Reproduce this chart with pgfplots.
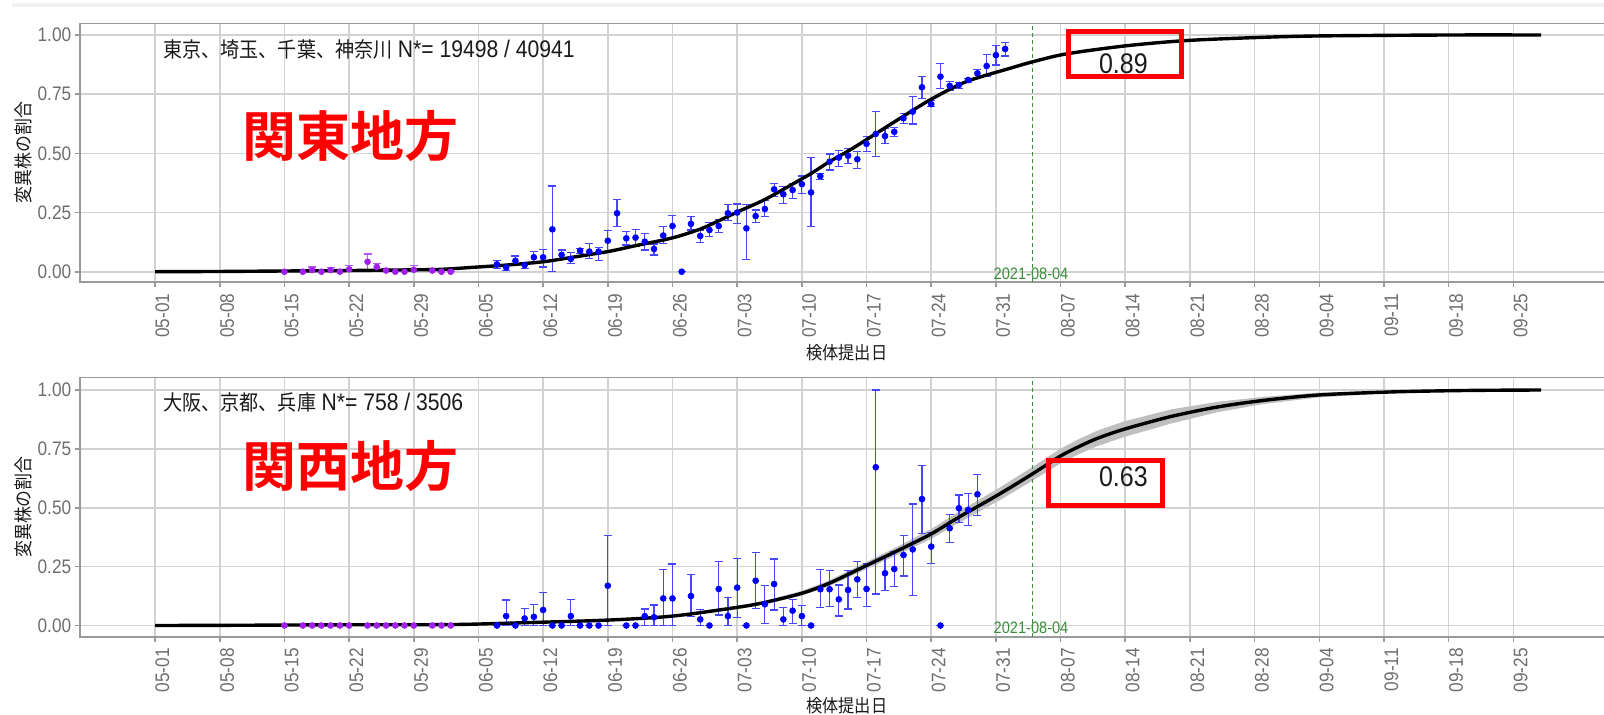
\documentclass[border=0pt]{standalone}
\usepackage{fontspec}
\setmainfont{Liberation Sans}
\newfontfamily\lsans{Liberation Sans}[FakeStretch=0.88]
\newfontfamily\cjk{Noto Sans CJK JP}[FakeStretch=0.9]
\newfontfamily\cjkb{Noto Sans CJK JP Bold}
\usepackage{pgfplots}
\pgfplotsset{compat=1.18}

\definecolor{tickgray}{HTML}{6E6E6E}
\definecolor{gridgray}{HTML}{D2D2D2}
\definecolor{framegray}{HTML}{9A9A9A}
\definecolor{vgreen}{HTML}{3C8C3C}
\definecolor{rpurple}{HTML}{A020F0}
\definecolor{barblue}{HTML}{4646FF}
\definecolor{txt}{HTML}{1A1A1A}

% day 0 = 05-01
\pgfplotstableread{
d v ep em
14 0 0 0
16 0 0 0
17 0.007 0.013 0.007
18 0 0 0
19 0.007 0.011 0.007
20 0 0 0
21 0.010 0.017 0.010
23 0.042 0.033 0.035
24 0.020 0.015 0.015
25 0.005 0.010 0.005
26 0 0 0
27 0 0 0
28 0.008 0.019 0.008
30 0.005 0.007 0.005
31 0 0 0
32 0 0 0
}\kantopurple

\pgfplotstableread{
d v ep em
37 0.031 0.016 0.016
38 0.018 0.012 0.013
39 0.046 0.020 0.018
40 0.028 0.012 0.013
41 0.061 0.026 0.025
42 0.061 0.033 0.041
43 0.179 0.183 0.179
44 0.071 0.021 0.021
45 0.054 0.026 0.021
46 0.089 0.009 0.011
47 0.085 0.035 0.029
48 0.085 0.018 0.036
49 0.131 0.042 0.046
50 0.247 0.058 0.057
51 0.141 0.028 0.028
52 0.144 0.035 0.035
53 0.127 0.035 0.035
54 0.096 0.021 0.025
55 0.153 0.039 0.033
56 0.193 0.046 0.052
57 0 0 0
58 0.202 0.030 0.026
59 0.151 0.025 0.029
60 0.176 0.031 0.028
61 0.193 0.028 0.028
62 0.247 0.038 0.029
63 0.250 0.036 0.046
64 0.183 0.100 0.131
65 0.235 0.026 0.028
66 0.265 0.035 0.033
67 0.348 0.025 0.031
68 0.327 0.032 0.038
69 0.345 0.028 0.035
70 0.370 0.034 0.039
71 0.335 0.146 0.145
72 0.404 0.012 0.014
73 0.465 0.032 0.035
74 0.482 0.029 0.038
75 0.490 0.031 0.032
76 0.475 0.032 0.038
77 0.540 0.030 0.033
78 0.582 0.096 0.096
79 0.573 0.033 0.031
80 0.591 0.019 0.021
81 0.648 0.021 0.021
82 0.676 0.064 0.052
83 0.779 0.045 0.047
84 0.708 0.014 0.011
85 0.824 0.056 0.049
86 0.785 0.018 0.017
87 0.789 0.010 0.014
88 0.810 0.007 0.011
89 0.838 0.017 0.018
90 0.869 0.048 0.045
91 0.915 0.042 0.042
92 0.941 0.026 0.030
}\kantoblue

\pgfplotstableread{
d v
0 0
7 0.001
14 0.003
21 0.005
28 0.008
31 0.010
35 0.020
38 0.028
42 0.042
45 0.060
49 0.085
52 0.110
56 0.143
59 0.180
61 0.215
63 0.252
66 0.305
69 0.370
71 0.415
73 0.465
75.2 0.514
78 0.583
81.4 0.667
84.2 0.733
87.8 0.803
92.5 0.859
95 0.887
98.6 0.920
105 0.954
111.4 0.976
119 0.989
126 0.996
140 1.0
150 1.0
}\kantofit

\pgfplotstableread{
d v ep em
14 0 0 0
16 0 0 0
17 0 0 0
18 0 0 0
19 0 0 0
20 0 0 0
21 0 0 0
23 0 0 0
24 0 0 0
25 0 0 0
26 0 0 0
27 0 0 0
28 0 0 0
30 0 0 0
31 0 0 0
32 0 0 0
}\kansaipurple

\pgfplotstableread{
d v ep em
37 0 0 0
38 0.040 0.068 0.040
39 0 0 0
40 0.030 0.043 0.030
41 0.037 0.053 0.037
42 0.066 0.074 0.066
43 0 0 0
44 0 0 0
45 0.040 0.070 0.040
46 0 0 0
47 0 0 0
48 0 0 0
49 0.169 0.212 0.169
51 0 0 0
52 0 0 0
53 0.040 0.030 0.040
54 0.035 0.052 0.035
55 0.115 0.124 0.115
56 0.115 0.146 0.115
58 0.125 0.090 0.087
59 0.026 0.043 0.026
60 0 0 0
61 0.155 0.116 0.110
62 0.040 0.080 0.040
63 0.161 0.124 0.126
64 0 0 0
65 0.190 0.119 0.117
66 0.090 0.080 0.081
67 0.176 0.106 0.110
68 0.026 0.051 0.026
69 0.063 0.047 0.053
70 0.040 0.044 0.040
71 0 0 0
72 0.154 0.085 0.077
73 0.154 0.079 0.074
74 0.111 0.061 0.071
75 0.151 0.082 0.081
76 0.196 0.075 0.076
77 0.155 0.106 0.075
78 0.672 0.328 0.538
79 0.222 0.072 0.072
80 0.240 0.073 0.075
81 0.299 0.082 0.089
82 0.323 0.193 0.197
83 0.537 0.144 0.146
84 0.335 0.059 0.071
85 0 0 0
86 0.413 0.059 0.060
87 0.498 0.056 0.060
88 0.491 0.070 0.065
89 0.557 0.085 0.091
}\kansaiblue

\pgfplotstableread{
d v
0 0
9 0.001
20 0.003
32 0.004
40 0.012
49 0.023
56 0.040
63 0.077
66 0.098
70 0.137
73 0.180
77 0.255
81 0.330
84 0.389
87 0.460
91.5 0.561
95 0.645
98 0.720
100 0.760
102 0.795
105 0.835
110 0.888
115 0.928
120 0.956
126 0.979
134 0.992
142 0.998
150 1.0
}\kansaifit

% confidence band: upper edge forward, lower edge back
\pgfplotstableread{
d v
56 0.044
63 0.083
66 0.105
70 0.147
73 0.192
77 0.270
81 0.348
84 0.410
87 0.484
91.5 0.588
95 0.674
98 0.751
100 0.792
102 0.828
105 0.868
110 0.918
115 0.950
120 0.971
126 0.989
134 0.997
142 1.000
150 1.001
150 0.999
142 0.996
134 0.987
126 0.969
120 0.941
115 0.906
110 0.858
105 0.802
102 0.762
100 0.728
98 0.689
95 0.616
91.5 0.534
87 0.436
84 0.368
81 0.312
77 0.240
73 0.168
70 0.127
66 0.091
63 0.071
56 0.036
}\kansaiband

\pgfplotsset{
  panel/.style={
    scale only axis, width=768pt,
    xmin=-8.12, xmax=158.11,
    xtick={0,7,...,147},
    xticklabels={05-01,05-08,05-15,05-22,05-29,06-05,06-12,06-19,06-26,07-03,07-10,07-17,07-24,07-31,08-07,08-14,08-21,08-28,09-04,09-11,09-18,09-25},
    ytick={0,0.25,0.5,0.75,1},
    yticklabels={0.00,0.25,0.50,0.75,1.00},
    grid=major,
    major grid style={gridgray, line width=0.8pt},
    axis line style={framegray, line width=0.8pt},
    tick align=outside, major tick length=2.6pt,
    tick style={framegray, line width=0.8pt},
    xtick pos=left, ytick pos=left,
    tick label style={font=\lsans\fontsize{9.8}{10}\selectfont, text=tickgray},
    xticklabel style={rotate=90, anchor=north east, inner sep=0pt},
    yticklabel style={anchor=east, inner sep=0pt},
    xticklabel shift=3pt, yticklabel shift=1.6pt,
    clip=false,
  },
  errs/.style 2 args={only marks, mark=*, mark size=1.45pt, color=#1,
    error bars/.cd, y dir=both, y explicit,
    error bar style={line width=0.6pt, color=#2},
    error mark options={rotate=90, mark size=2pt, line width=0.6pt, color=#2}},
}

\begin{document}
\begin{tikzpicture}
\path[use as bounding box] (0,0) rectangle (802pt,357pt);
\draw[gray!10, line width=2pt] (6pt,354.5pt) -- (802pt,354.5pt);

% ---- Kanto ----
\begin{axis}[panel, at={(40pt,216pt)}, anchor=south west,
  height=129.35pt, ymin=-0.0435, ymax=1.0494]
\draw[vgreen, dash pattern=on 2pt off 1.5pt, line width=0.5pt]
  (axis cs:95,-0.0435) -- (axis cs:95,1.0494);
\addplot[errs={rpurple}{rpurple!75}]
  table[x=d, y=v, y error plus=ep, y error minus=em] {\kantopurple};
\addplot[errs={blue}{barblue}]
  table[x=d, y=v, y error plus=ep, y error minus=em] {\kantoblue};
\addplot[black, line width=1.7pt, smooth, tension=0.5] table[x=d, y=v] {\kantofit};
\node[vgreen, font=\lsans\fontsize{8.3}{9}\selectfont] at (axis cs:94.8,-0.008) {2021-08-04};
\node[anchor=west, inner sep=0pt, text=txt] at (axis cs:0.87,0.937)
  {{\cjk\fontsize{10.6}{11}\selectfont 東京、埼玉、千葉、神奈川} {\lsans\fontsize{12}{12}\selectfont N*= 19498 / 40941}};
\node[red, font=\cjkb\fontsize{27}{28}\selectfont] at (axis cs:21.2,0.575) {関東地方};
\draw[red, line width=2.5pt] (axis cs:98.86,1.015) rectangle (axis cs:111.09,0.825);
\node[text=txt, font=\lsans\fontsize{14.2}{15}\selectfont] at (axis cs:104.8,0.880) {0.89};
\node[rotate=90, text=txt, font=\cjk\fontsize{9.4}{10}\selectfont] at (axis cs:-14.2,0.503) {変異株の割合};
\node[text=txt, font=\cjk\fontsize{9}{10}\selectfont] at (axis cs:74.86,-0.343) {検体提出日};
\end{axis}

% ---- Kansai ----
\begin{axis}[panel, at={(40pt,38.65pt)}, anchor=south west,
  height=129.7pt, ymin=-0.04756, ymax=1.0539]
\addplot[draw=none, fill=gray!50] table[x=d, y=v] {\kansaiband};
\draw[vgreen, dash pattern=on 2pt off 1.5pt, line width=0.5pt]
  (axis cs:95,-0.04756) -- (axis cs:95,1.0539);
\addplot[errs={rpurple}{rpurple!75}]
  table[x=d, y=v, y error plus=ep, y error minus=em] {\kansaipurple};
\addplot[errs={blue}{barblue}]
  table[x=d, y=v, y error plus=ep, y error minus=em] {\kansaiblue};
\addplot[black, line width=1.7pt, smooth, tension=0.5] table[x=d, y=v] {\kansaifit};
\node[vgreen, font=\lsans\fontsize{8.3}{9}\selectfont] at (axis cs:94.8,-0.011) {2021-08-04};
\node[anchor=west, inner sep=0pt, text=txt] at (axis cs:0.87,0.945)
  {{\cjk\fontsize{10.6}{11}\selectfont 大阪、京都、兵庫} {\lsans\fontsize{12}{12}\selectfont N*= 758 / 3506}};
\node[red, font=\cjkb\fontsize{27}{28}\selectfont] at (axis cs:21.2,0.675) {関西地方};
\draw[red, line width=2.5pt] (axis cs:96.7,0.7006) rectangle (axis cs:109.0,0.5096);
\node[text=txt, font=\lsans\fontsize{14.2}{15}\selectfont] at (axis cs:104.8,0.630) {0.63};
\node[rotate=90, text=txt, font=\cjk\fontsize{9.4}{10}\selectfont] at (axis cs:-14.2,0.503) {変異株の割合};
\node[text=txt, font=\cjk\fontsize{9}{10}\selectfont] at (axis cs:74.86,-0.342) {検体提出日};
\end{axis}
\end{tikzpicture}
\end{document}
